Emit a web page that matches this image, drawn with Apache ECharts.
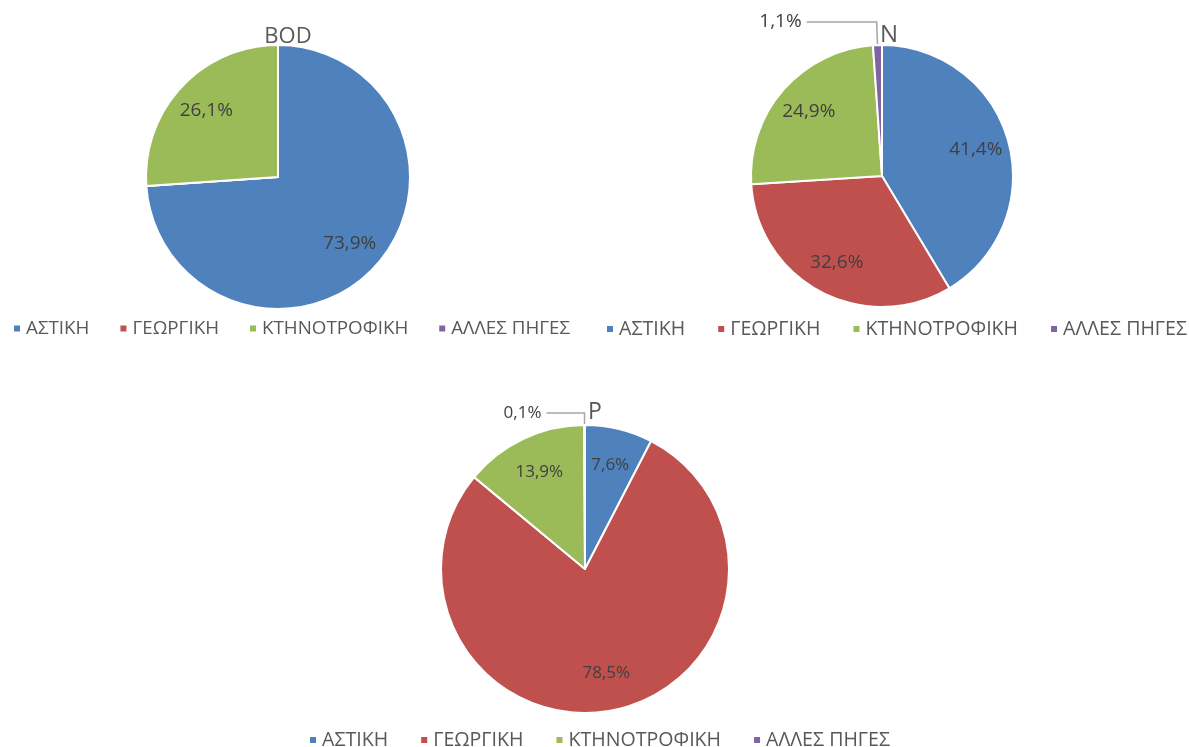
<!DOCTYPE html>
<html>
<head>
<meta charset="utf-8">
<script src="https://cdn.jsdelivr.net/npm/echarts@6/dist/echarts.min.js"></script>
<style>html,body{margin:0;padding:0;background:#fff}#c{width:1189px;height:747px}</style>
</head>
<body>
<div id="c"></div>
<script>
const categories = ['ΑΣΤΙΚΗ', 'ΓΕΩΡΓΙΚΗ', 'ΚΤΗΝΟΤΡΟΦΙΚΗ', 'ΑΛΛΕΣ ΠΗΓΕΣ'];
const chartTitles = ['BOD', 'N', 'P'];
const bodValues = [73.9, 0, 26.1, 0];
const nValues = [41.4, 32.6, 24.9, 1.1];
const pValues = [7.6, 78.5, 13.9, 0.1];

const colors = ['#4F81BD', '#C0504D', '#9BBB59', '#8064A2'];
const FONT = '"Open Sans", "Noto Sans", sans-serif';
const fmt = v => v.toFixed(1).replace('.', ',') + '%';

const layouts = [
  {center: [278, 177], r: 132, title: [288, 26], titleSize: 22, labelSize: 19, line: [20, 65],
   legend: {left: 12, top: 319, size: 18.8, gap: 29}},
  {center: [882, 176], r: 131, title: [889, 23], titleSize: 24, labelSize: 19, line: [23, 70],
   legend: {left: 605, top: 319, size: 19.6, gap: 31}},
  {center: [585, 569], r: 144, title: [595, 401], titleSize: 23, labelSize: 17, line: [12, 38],
   legend: {left: 308, top: 730, size: 19.6, gap: 31}}
];
const valueSets = [bodValues, nValues, pValues];

const series = [];
const titles = [];
const legends = [];
valueSets.forEach((vals, i) => {
  const L = layouts[i];
  series.push({
    type: 'pie', center: L.center, radius: L.r, startAngle: 90, clockwise: true,
    avoidLabelOverlap: false, animation: false,
    itemStyle: {borderColor: '#fff', borderWidth: 2},
    labelLine: {show: true, length: L.line[0], length2: L.line[1], lineStyle: {color: '#A6A6A6', width: 1.5}},
    data: categories.map((c, k) => ({
      name: c, value: vals[k],
      itemStyle: {color: colors[k]},
      label: {show: vals[k] > 0 && vals[k] < 5, position: 'outside', formatter: fmt(vals[k]),
              color: '#404040', fontSize: L.labelSize, fontFamily: FONT},
      labelLine: {show: vals[k] > 0 && vals[k] < 5}
    }))
  });
  series.push({
    type: 'pie', center: L.center, radius: [L.r * 0.44, L.r], startAngle: 90, clockwise: true,
    silent: true, animation: false, legendHoverLink: false,
    itemStyle: {color: 'rgba(0,0,0,0)', borderWidth: 0},
    labelLine: {show: false},
    data: categories.map((c, k) => ({
      name: c + ' ', value: vals[k],
      label: {show: vals[k] >= 5, position: 'inside', formatter: fmt(vals[k]),
              color: '#404040', fontSize: L.labelSize, fontFamily: FONT}
    }))
  });
  titles.push({text: chartTitles[i], left: L.title[0], top: L.title[1], textAlign: 'center', padding: 0,
    textStyle: {color: '#595959', fontSize: L.titleSize, fontWeight: 'normal', fontFamily: FONT}});
  legends.push({data: categories, left: L.legend.left, top: L.legend.top, orient: 'horizontal', padding: 0,
    icon: 'rect', itemWidth: 8, itemHeight: 8, itemGap: L.legend.gap,
    textStyle: {color: '#595959', fontSize: L.legend.size, fontFamily: FONT}});
});

const chart = echarts.init(document.getElementById('c'));
chart.setOption({
  color: colors,
  title: titles,
  legend: legends,
  series: series
});
</script>
</body>
</html>
